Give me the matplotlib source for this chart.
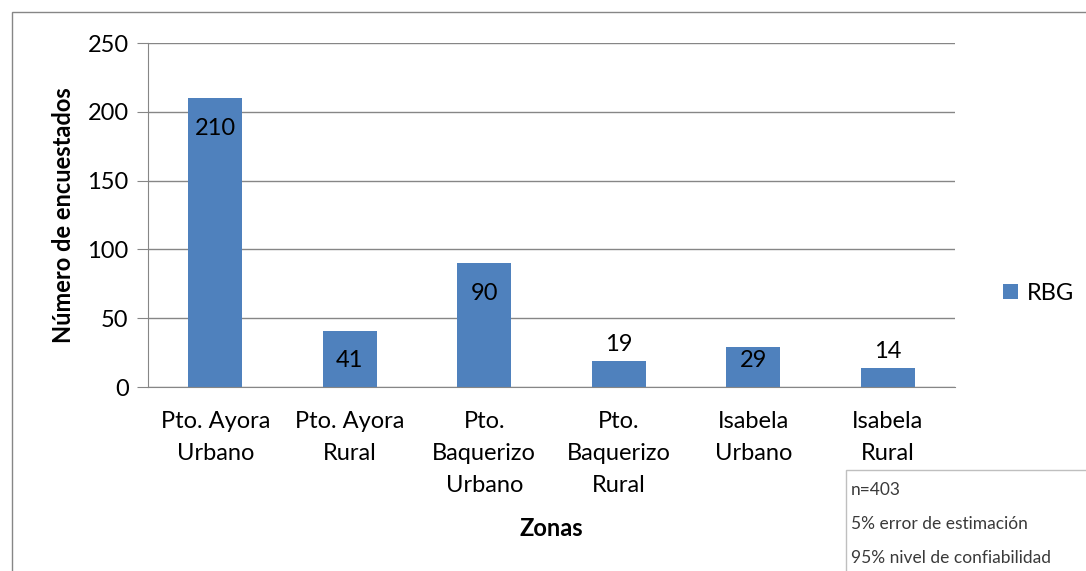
import matplotlib.pyplot as plt
from matplotlib.patches import Rectangle

# Data
zonas = ["Pto. Ayora\nUrbano", "Pto. Ayora\nRural", "Pto.\nBaquerizo\nUrbano",
         "Pto.\nBaquerizo\nRural", "Isabela\nUrbano", "Isabela\nRural"]
encuestados = [210, 41, 90, 19, 29, 14]
serie = "RBG"
notas = ["n=403", "5% error de estimación", "95% nivel de confiabilidad"]

plt.rcParams['font.family'] = ['Lato', 'DejaVu Sans']
fs = 17

fig = plt.figure(figsize=(10.86, 5.71), dpi=100)
ax = fig.add_axes([148 / 1086, 1 - 387 / 571, 807 / 1086, 344 / 571])

x = range(len(zonas))
bars = ax.bar(x, encuestados, width=0.4, color="#4F81BD", label=serie, zorder=3)

ax.set_xlim(-0.5, len(zonas) - 0.5)
ax.set_ylim(0, 250)
ax.set_yticks(range(0, 251, 50))
ax.set_xticks(list(x))
ax.set_xticklabels(zonas, fontsize=fs, linespacing=1.65)
ax.tick_params(axis="y", labelsize=fs, length=8, color="#868686", pad=6)
ax.tick_params(axis="x", length=0, pad=17)
ax.yaxis.grid(True, color="#868686", linewidth=1, zorder=0)

for s in ["top", "right"]:
    ax.spines[s].set_visible(False)
for s in ["left", "bottom"]:
    ax.spines[s].set_color("#868686")
    ax.spines[s].set_zorder(4)

# Value labels
for xi, v in zip(x, encuestados):
    if v >= 25:
        ax.text(xi, max(v - 21.8, 19.5), str(v), ha="center", va="center",
                fontsize=fs, zorder=5)
    else:
        ax.annotate(str(v), (xi, v), xytext=(0, 12), textcoords="offset points",
                    ha="center", va="center", fontsize=fs)

ax.set_ylabel("Número de encuestados", fontsize=fs, fontweight="bold", labelpad=9)
ax.set_xlabel("Zonas", fontsize=fs, fontweight="bold", labelpad=15)

fig.legend(loc="center left", bbox_to_anchor=(994 / 1086, 1 - 293 / 571),
           frameon=False, fontsize=fs, handlelength=0.6, handleheight=0.6,
           handletextpad=0.4, borderaxespad=0)

# Outer chart border (continues past the right and bottom edges)
fig.patches.append(Rectangle((12 / 1086, -0.1), 1.2, 1.1 - 12 / 571,
                             transform=fig.transFigure, fill=False,
                             edgecolor="#868686", linewidth=1))

# Notes box
fig.patches.append(Rectangle((846 / 1086, -0.1), 0.3, 0.1 + 101 / 571,
                             transform=fig.transFigure, facecolor="white",
                             edgecolor="#BFBFBF", linewidth=1, zorder=5))
for i, t in enumerate(notas):
    fig.text(851 / 1086, 1 - (490 + 34 * i) / 571, t, fontsize=12.5,
             color="#3a3a3a", va="center", ha="left", zorder=6)

fig.savefig("out.png", dpi=100)
